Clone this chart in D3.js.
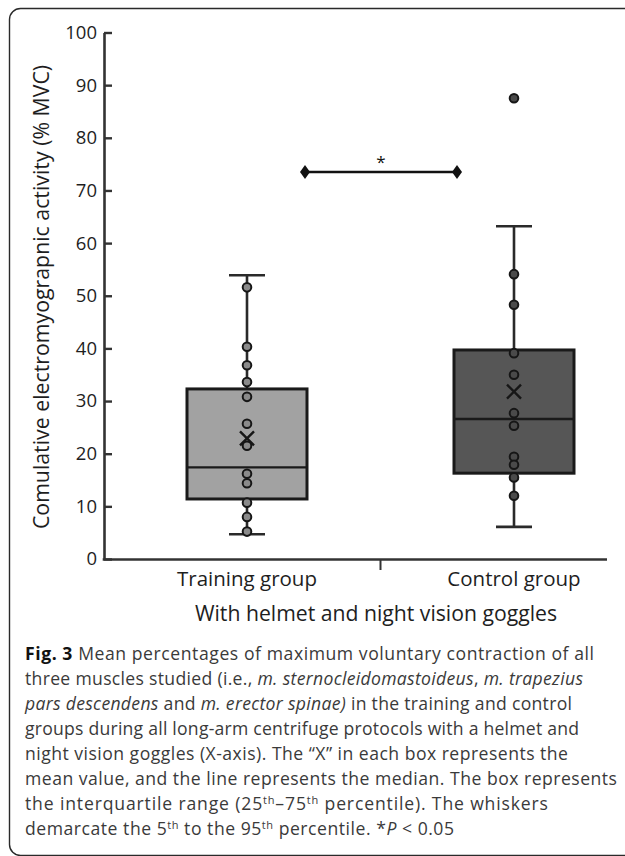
<!DOCTYPE html>
<html>
<head>
<meta charset="utf-8">
<script src="https://cdn.jsdelivr.net/npm/d3@7"></script>
<style>
  html, body { margin: 0; padding: 0; background: #fff; }
  svg { display: block; }
</style>
</head>
<body>
<svg width="625" height="856"></svg>
<script>
// box plot summary (% MVC)
var categories = ["Training group", "Control group"];
var whiskerLow = [4.7, 6.1];
var q1 = [11.4, 16.3];
var median = [17.4, 26.6];
var q3 = [32.3, 39.7];
var whiskerHigh = [53.9, 63.2];
var means = [22.9, 31.8];
var trainingPoints = [51.6, 40.3, 36.8, 33.6, 30.8, 25.7, 21.5, 16.2, 14.4, 10.7, 8.0, 5.2];
var controlPoints = [87.5, 54.1, 48.3, 39.1, 35.0, 27.7, 25.3, 19.4, 17.9, 15.5, 12.0];
var yTicks = [0, 10, 20, 30, 40, 50, 60, 70, 80, 90, 100];
var sigLevel = 73.5;

var boxFill = ["#a2a2a2", "#565656"];
var dotFill = ["#8a8a8a", "#4a4a4a"];

var svg = d3.select("svg");

// frame round figure + caption
svg.append("rect")
  .attr("x", 9.5).attr("y", 8.5)
  .attr("width", 700).attr("height", 847)
  .attr("rx", 11)
  .attr("fill", "none").attr("stroke", "#2a2a2a").attr("stroke-width", 1.4);

var y = d3.scaleLinear().domain([0, 100]).range([559, 32.5]);
var x = d3.scaleBand().domain(categories).range([113.5, 647.5]);
var cx = function(c) { return x(c) + x.bandwidth() / 2; };
var boxW = 120, capW = 18;

var g = svg.append("g");

// y axis, inward ticks
var yAxis = g.append("g")
  .attr("transform", "translate(104,0)")
  .call(d3.axisLeft(y).tickValues(yTicks).tickSizeInner(-8).tickSizeOuter(0).tickPadding(7));
yAxis.select(".domain").attr("stroke", "#333").attr("stroke-width", 2.6);
yAxis.selectAll(".tick line").attr("stroke", "#333").attr("stroke-width", 2.4);
yAxis.selectAll("text")
  .attr("font-family", "Open Sans").attr("font-size", 18.5).attr("fill", "#1e1e1e");

// x axis: labels from the band scale, line + divider tick drawn apart
var xAxis = g.append("g")
  .attr("transform", "translate(0,559)")
  .call(d3.axisBottom(x).tickSize(0).tickPadding(12));
xAxis.select(".domain").remove();
xAxis.selectAll("text")
  .attr("font-family", "Open Sans").attr("font-size", 20.5).attr("fill", "#1e1e1e");
g.append("line")
  .attr("x1", 102.7).attr("x2", 607).attr("y1", 559.5).attr("y2", 559.5)
  .attr("stroke", "#333").attr("stroke-width", 2.6);
g.append("line")
  .attr("x1", x(categories[1])).attr("x2", x(categories[1]))
  .attr("y1", 560).attr("y2", 570)
  .attr("stroke", "#333").attr("stroke-width", 2);

g.append("text")
  .attr("x", 376).attr("y", 621)
  .attr("text-anchor", "middle")
  .attr("font-family", "Open Sans").attr("font-size", 21.2).attr("fill", "#1e1e1e")
  .text("With helmet and night vision goggles");

g.append("text")
  .attr("transform", "translate(49,297) rotate(-90)")
  .attr("text-anchor", "middle")
  .attr("font-family", "Open Sans").attr("font-size", 21.3).attr("fill", "#1e1e1e")
  .text("Comulative electromyograpnic activity (% MVC)");

// boxes
var groups = categories.map(function(c, i) {
  return { cat: c, i: i, lo: whiskerLow[i], q1: q1[i], med: median[i], q3: q3[i], hi: whiskerHigh[i],
    mean: means[i], pts: i === 0 ? trainingPoints : controlPoints };
});

var bx = g.selectAll(".box").data(groups).enter().append("g").attr("class", "box");

bx.append("line")
  .attr("x1", function(d) { return cx(d.cat); }).attr("x2", function(d) { return cx(d.cat); })
  .attr("y1", function(d) { return y(d.lo); }).attr("y2", function(d) { return y(d.hi); })
  .attr("stroke", "#2a2a2a").attr("stroke-width", 2.6);
bx.selectAll(".cap").data(function(d) { return [d.lo, d.hi].map(function(v) { return { cat: d.cat, v: v }; }); })
  .enter().append("line")
  .attr("x1", function(d) { return cx(d.cat) - capW; }).attr("x2", function(d) { return cx(d.cat) + capW; })
  .attr("y1", function(d) { return y(d.v); }).attr("y2", function(d) { return y(d.v); })
  .attr("stroke", "#2a2a2a").attr("stroke-width", 2.6);
bx.append("rect")
  .attr("x", function(d) { return cx(d.cat) - boxW / 2; })
  .attr("y", function(d) { return y(d.q3); })
  .attr("width", boxW)
  .attr("height", function(d) { return y(d.q1) - y(d.q3); })
  .attr("fill", function(d) { return boxFill[d.i]; })
  .attr("stroke", "#1a1a1a").attr("stroke-width", 3);
bx.append("line")
  .attr("x1", function(d) { return cx(d.cat) - boxW / 2; }).attr("x2", function(d) { return cx(d.cat) + boxW / 2; })
  .attr("y1", function(d) { return y(d.med); }).attr("y2", function(d) { return y(d.med); })
  .attr("stroke", "#1a1a1a").attr("stroke-width", 2.4);
bx.selectAll(".dot").data(function(d) { return d.pts.map(function(v) { return { cat: d.cat, i: d.i, v: v }; }); })
  .enter().append("circle")
  .attr("cx", function(d) { return cx(d.cat); })
  .attr("cy", function(d) { return y(d.v); })
  .attr("r", 4.3)
  .attr("fill", function(d) { return dotFill[d.i]; })
  .attr("stroke", "#161616").attr("stroke-width", 2);
bx.append("path")
  .attr("d", function(d) {
    var px = cx(d.cat), py = y(d.mean), s = 7;
    return "M" + (px - s) + "," + (py - s) + "L" + (px + s) + "," + (py + s) +
      "M" + (px + s) + "," + (py - s) + "L" + (px - s) + "," + (py + s);
  })
  .attr("stroke", "#161616").attr("stroke-width", 2.4).attr("fill", "none");

// significance bracket
var sx1 = cx(categories[0]) + boxW / 2 - 2, sx2 = cx(categories[1]) - boxW / 2 + 3;
g.append("line")
  .attr("x1", sx1).attr("x2", sx2).attr("y1", y(sigLevel)).attr("y2", y(sigLevel))
  .attr("stroke", "#111").attr("stroke-width", 2.6);
g.selectAll(".dia").data([sx1, sx2]).enter().append("path")
  .attr("d", "M0,-7L5,0L0,7L-5,0Z")
  .attr("transform", function(d) { return "translate(" + d + "," + y(sigLevel) + ")"; })
  .attr("fill", "#111");
g.append("text")
  .attr("x", (sx1 + sx2) / 2).attr("y", y(sigLevel) - 4)
  .attr("text-anchor", "middle")
  .attr("font-family", "Open Sans").attr("font-size", 17).attr("fill", "#111")
  .text("*");

// caption
var caption = [
  [["b", "Fig. 3"], ["", " Mean percentages of maximum voluntary contraction of all"]],
  [["", "three muscles studied (i.e., "], ["i", "m. sternocleidomastoideus"], ["", ", "], ["i", "m. trapezius"]],
  [["i", "pars descendens"], ["", " and "], ["i", "m. erector spinae)"], ["", " in the training and control"]],
  [["", "groups during all long-arm centrifuge protocols with a helmet and"]],
  [["", "night vision goggles (X-axis). The \u201cX\u201d in each box represents the"]],
  [["", "mean value, and the line represents the median. The box represents"]],
  [["", "the interquartile range (25"], ["s", "th"], ["", "\u201375"], ["s", "th"], ["", " percentile). The whiskers"]],
  [["", "demarcate the 5"], ["s", "th"], ["", " to the 95"], ["s", "th"], ["", " percentile. *"], ["i", "P"], ["", " < 0.05"]]
];
var lineEnds = [594, 583, 572, 579, 568, 617, 548, 454];

var cap = svg.append("g")
  .attr("font-family", "Open Sans").attr("font-size", 17.6).attr("fill", "#3a3a3a");
caption.forEach(function(line, li) {
  var t = cap.append("text")
    .attr("x", 25).attr("y", 660 + li * 25)
    .attr("textLength", lineEnds[li] - 25).attr("lengthAdjust", "spacing");
  line.forEach(function(seg) {
    var ts = t.append("tspan").text(seg[1]);
    if (seg[0] === "b") ts.attr("font-weight", "bold").attr("fill", "#111");
    if (seg[0] === "i") ts.attr("font-style", "italic");
    if (seg[0] === "s") ts.attr("font-size", 11).attr("baseline-shift", "6");
  });
});
</script>
</body>
</html>
